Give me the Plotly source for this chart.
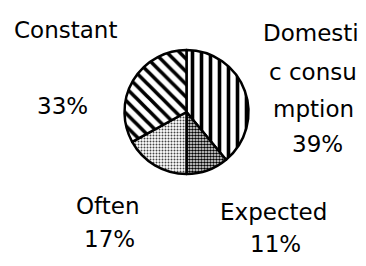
import plotly.graph_objects as go

categories = ["Domestic consumption", "Expected", "Often", "Constant"]
values = [39, 11, 17, 33]
label_lines = [["Domesti", "c consu", "mption", "39%"], ["Expected", "11%"], ["Often", "17%"], ["Constant", "", "", "33%"]]

# page has an 8px body margin on every side: keep the figure inside the window
OFF = 8
W, H = 366 - 2 * OFF, 266 - 2 * OFF
cx, cy, d = 186.5 - OFF, 112 - OFF, 124

fig = go.Figure()
fig.add_trace(go.Pie(
    labels=categories, values=values, sort=False, direction="clockwise", rotation=0,
    textinfo="none", hoverinfo="label+percent",
    domain=dict(x=[(cx - d / 2) / W, (cx + d / 2) / W], y=[(H - cy - d / 2) / H, (H - cy + d / 2) / H]),
    marker=dict(
        colors=["white", "white", "white", "white"],
        line=dict(color="black", width=2.5),
        pattern=dict(
            shape=["|", ".", ".", "\\"],
            fgcolor=["black", "black", "#444444", "black"],
            bgcolor=["white", "white", "white", "white"],
            size=[9, 3, 3, 9],
            solidity=[0.4, 0.6, 0.35, 0.4],
        ),
    ),
))

# label positions (page-pixel centres) per category
pos = {
    "Domestic consumption": [(311, 33), (313, 72), (313, 109), (317, 144)],
    "Expected": [(273, 212), (275, 244)],
    "Often": [(108, 206), (109, 239)],
    "Constant": [(65, 30), None, None, (62, 106)],
}
for cat, lines in zip(categories, label_lines):
    for txt, p in zip(lines, pos[cat]):
        if not txt or p is None:
            continue
        fig.add_annotation(
            x=(p[0] - OFF) / W, y=1 - (p[1] - OFF) / H, xref="paper", yref="paper",
            text=txt, showarrow=False, xanchor="center", yanchor="middle",
            font=dict(family="DejaVu Sans", size=23, color="black"),
        )

fig.update_layout(
    width=W, height=H, margin=dict(l=0, r=0, t=0, b=0),
    paper_bgcolor="white", plot_bgcolor="white", showlegend=False,
)
fig.write_html("out.html")
